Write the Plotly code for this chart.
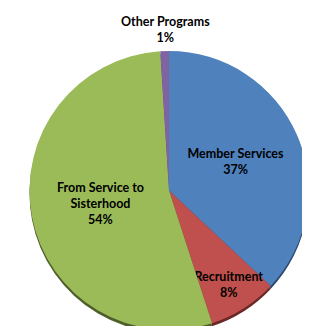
import plotly.graph_objects as go

labels = ["Member Services", "Recruitment", "From Service to<br>Sisterhood", "Other Programs"]
values = [37, 8, 54, 1]
colors = ["#4F81BD", "#C0504D", "#9BBB59", "#8064A2"]
shadow_colors = ["#2E4A6E", "#6A2826", "#4E5F2B", "#4A3A60"]
positions = ["inside", "inside", "inside", "none"]

W, H = 310, 326
FONT = "Lato, 'Open Sans', sans-serif"
FS = 12.5

# shadow (3D bottom edge)
fig = go.Figure(go.Pie(
    labels=labels, values=values, sort=False, direction="clockwise", rotation=0,
    marker=dict(colors=shadow_colors, line=dict(width=0)),
    textposition="none", showlegend=False, hoverinfo="skip",
    domain=dict(x=[19/W, 303/W], y=[1-325/H, 1-46/H]),
))
fig.add_trace(go.Pie(
    labels=labels,
    values=values,
    sort=False,
    direction="clockwise",
    rotation=0,
    marker=dict(colors=colors, line=dict(width=0)),
    texttemplate="<b>%{label}</b><br><b>%{percent:.0%}</b>",
    textposition=positions,
    insidetextorientation="horizontal",
    textfont=dict(family=FONT, size=FS, color="black"),
    showlegend=False,
    hoverinfo="skip",
    domain=dict(x=[19/W, 303/W], y=[1-322/H, 1-43/H]),
))
total = sum(values)
fig.add_annotation(
    x=157/W, y=1-4/H, xref="paper", yref="paper",
    text=f"<b>{labels[3]}</b><br><b>{round(values[3]/total*100)}%</b>",
    showarrow=False, xanchor="center", yanchor="top",
    font=dict(family=FONT, size=FS, color="black"),
)
fig.update_layout(
    width=W, height=H,
    margin=dict(l=0, r=0, t=0, b=0),
    paper_bgcolor="white",
    plot_bgcolor="white",
    uniformtext=dict(minsize=FS, mode="show"),
)
fig.write_html("out.html")
